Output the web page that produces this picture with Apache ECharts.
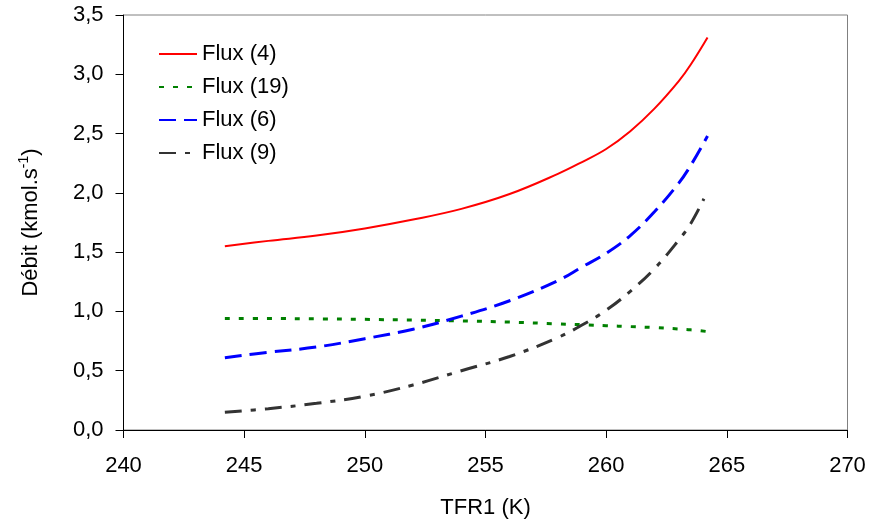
<!DOCTYPE html>
<html>
<head>
<meta charset="utf-8">
<script src="https://cdn.jsdelivr.net/npm/echarts@6/dist/echarts.min.js"></script>
<style>html,body{margin:0;padding:0;background:#fff}#c{width:870px;height:524px}</style>
</head>
<body>
<div id="c"></div>
<script>
// Data
const xValues   = [244.2, 246, 248, 250, 252, 254, 256, 258, 259, 260, 261, 262, 263, 263.5, 264.2];
const flux4     = [1.55, 1.595, 1.64, 1.70, 1.775, 1.865, 1.99, 2.16, 2.26, 2.37, 2.52, 2.71, 2.94, 3.08, 3.31];
const flux19    = [0.94, 0.94, 0.937, 0.933, 0.927, 0.92, 0.91, 0.895, 0.888, 0.88, 0.872, 0.864, 0.852, 0.845, 0.83];
const flux6     = [0.61, 0.655, 0.70, 0.77, 0.85, 0.96, 1.09, 1.26, 1.375, 1.49, 1.64, 1.84, 2.08, 2.23, 2.48];
const xGray     = [244.2, 246, 248, 250, 252, 254, 256, 258, 259, 260, 261, 262, 263, 263.5, 264.05];
const flux9     = [0.15, 0.18, 0.225, 0.285, 0.38, 0.50, 0.62, 0.78, 0.885, 1.01, 1.17, 1.36, 1.60, 1.74, 1.95];
const seriesNames = ['Flux (4)', 'Flux (19)', 'Flux (6)', 'Flux (9)'];
const xTicks = [240, 245, 250, 255, 260, 265, 270];
const yTicks = [0, 0.5, 1.0, 1.5, 2.0, 2.5, 3.0, 3.5];

const pairs = (xs, ys) => xs.map((x, i) => [x, ys[i]]);
const FONT = '"Liberation Sans", Arial, sans-serif';

const chart = echarts.init(document.getElementById('c'), null, {renderer: 'canvas'});
chart.setOption({
  animation: false,
  backgroundColor: '#fff',
  grid: {left: 123.5, right: 22.5, top: 15, bottom: 93, show: true, borderColor: '#808080', borderWidth: 1},
  legend: {
    orient: 'vertical', left: 153, top: 38, itemWidth: 38, itemHeight: 14, itemGap: 11,
    textStyle: {fontFamily: FONT, fontSize: 22, color: '#000'},
    itemStyle: {opacity: 0},
    data: seriesNames
  },
  xAxis: {
    type: 'value', min: xTicks[0], max: xTicks[xTicks.length - 1], interval: 5,
    name: 'TFR1 (K)', nameLocation: 'middle', nameGap: 67,
    nameTextStyle: {fontFamily: FONT, fontSize: 22, color: '#000'},
    axisLine: {show: true, onZero: false, lineStyle: {color: '#000', width: 1}},
    axisTick: {show: true, length: 8, lineStyle: {color: '#000'}},
    axisLabel: {fontFamily: FONT, fontSize: 22, color: '#000', margin: 25},
    splitLine: {show: false}
  },
  yAxis: {
    type: 'value', min: yTicks[0], max: yTicks[yTicks.length - 1], interval: 0.5,
    name: 'Débit (kmol.s{sup|-1})', nameLocation: 'middle', nameGap: 80, nameRotate: 90,
    nameTextStyle: {fontFamily: FONT, fontSize: 22, color: '#000',
      rich: {sup: {fontFamily: FONT, fontSize: 14, color: '#000', verticalAlign: 'top', padding: [0, 0, 12, 0]}}},
    axisLine: {show: true, lineStyle: {color: '#000', width: 1}},
    axisTick: {show: true, length: 8, lineStyle: {color: '#000'}},
    axisLabel: {fontFamily: FONT, fontSize: 22, color: '#000', margin: 20,
      formatter: v => v.toFixed(1).replace('.', ',')},
    splitLine: {show: false}
  },
  series: [
    {name: seriesNames[0], type: 'line', smooth: 0.4, symbol: 'none', data: pairs(xValues, flux4),
     lineStyle: {color: '#ff0000', width: 2}, itemStyle: {color: '#ff0000'}},
    {name: seriesNames[1], type: 'line', smooth: 0.4, symbol: 'none', data: pairs(xValues, flux19),
     lineStyle: {color: '#008000', width: 3, type: [5, 9]}, itemStyle: {color: '#008000'}},
    {name: seriesNames[2], type: 'line', smooth: 0.4, symbol: 'none', data: pairs(xValues, flux6),
     lineStyle: {color: '#0000ff', width: 3, type: [17, 8]}, itemStyle: {color: '#0000ff'}},
    {name: seriesNames[3], type: 'line', smooth: 0.4, symbol: 'none', data: pairs(xGray, flux9),
     lineStyle: {color: '#333333', width: 3, type: [17, 9, 5, 9]}, itemStyle: {color: '#333333'}}
  ]
});
</script>
</body>
</html>
